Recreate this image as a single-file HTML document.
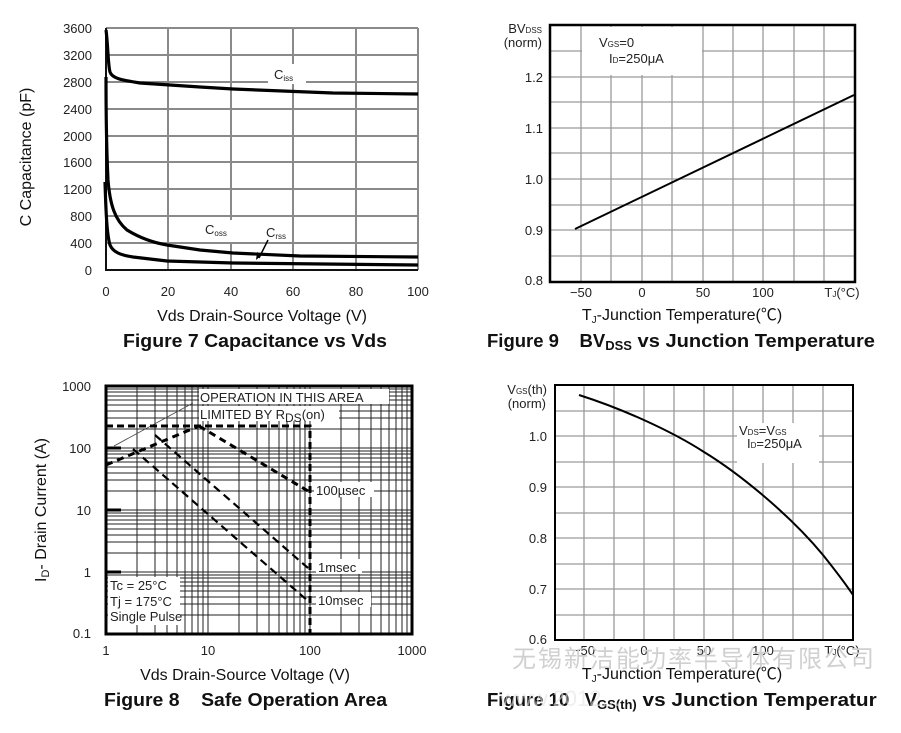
<!DOCTYPE html>
<html><head><meta charset="utf-8"><style>
body{margin:0;background:#fff;}
svg{display:block;font-family:"Liberation Sans","Noto Sans CJK SC",sans-serif;}
text{white-space:pre;}
.t{font-size:13px;fill:#222;}
.ax{font-size:16px;fill:#111;}
.ti{font-size:18.5px;font-weight:bold;fill:#111;}
.g7 line{stroke:#8a8a8a;stroke-width:2;}
.g8 line{stroke:#222;stroke-width:1;}
.g9 line{stroke:#9a9a9a;stroke-width:1.3;}
</style></head><body>
<svg width="901" height="733" viewBox="0 0 901 733" xml:space="preserve">
<!-- FIG 7 -->
<g class="g7">
<line x1="168" y1="28" x2="168" y2="270"/><line x1="231" y1="28" x2="231" y2="270"/><line x1="293" y1="28" x2="293" y2="270"/><line x1="356" y1="28" x2="356" y2="270"/><line x1="418" y1="28" x2="418" y2="270"/>
<line x1="106" y1="28" x2="418" y2="28"/><line x1="106" y1="55" x2="418" y2="55"/><line x1="106" y1="82" x2="418" y2="82"/><line x1="106" y1="109" x2="418" y2="109"/><line x1="106" y1="136" x2="418" y2="136"/><line x1="106" y1="162" x2="418" y2="162"/><line x1="106" y1="189" x2="418" y2="189"/><line x1="106" y1="216" x2="418" y2="216"/><line x1="106" y1="243" x2="418" y2="243"/>
</g>
<line x1="106" y1="28" x2="106" y2="271" stroke="#111" stroke-width="2"/>
<line x1="105" y1="270" x2="418" y2="270" stroke="#111" stroke-width="2"/>
<rect x="268" y="64" width="38" height="20" fill="#fff"/>
<rect x="200" y="220" width="90" height="22" fill="#fff"/>
<g fill="none" stroke="#000" stroke-width="3.2" stroke-linejoin="round">
<path d="M106,30 C108,45 108,65 110,72 C112,78 120,80 140,83 L200,87 L233,89 L333,93 L418,94"/>
<path d="M106,77 C106,130 107,160 108,180 C110,205 115,220 127,230 C140,238 155,243 167,245 L200,250 L233,253 L300,256 L418,257"/>
<path d="M105,182 C106,215 107,235 110,245 C113,252 120,255 133,257 L167,261 L233,263 L418,265"/>
</g>
<path d="M268,240 L259,258" stroke="#000" stroke-width="1.5"/><path d="M256,260 L257,252 L262,255 Z" fill="#000"/>
<text x="274" y="79" class="t" fill="#333">C<tspan font-size="8" dy="2">iss</tspan></text>
<text x="205" y="234" class="t">C<tspan font-size="8" dy="2">oss</tspan></text>
<text x="266" y="237" class="t">C<tspan font-size="8" dy="2">rss</tspan></text>
<g class="t" text-anchor="end"><text x="92" y="33">3600</text><text x="92" y="60">3200</text><text x="92" y="87">2800</text><text x="92" y="114">2400</text><text x="92" y="141">2000</text><text x="92" y="167">1600</text><text x="92" y="194">1200</text><text x="92" y="221">800</text><text x="92" y="248">400</text><text x="92" y="275">0</text></g>
<g class="t" text-anchor="middle"><text x="106" y="296">0</text><text x="168" y="296">20</text><text x="231" y="296">40</text><text x="293" y="296">60</text><text x="356" y="296">80</text><text x="418" y="296">100</text></g>
<text x="262" y="321" class="ax" text-anchor="middle">Vds Drain-Source Voltage (V)</text>
<text transform="translate(31,157) rotate(-90)" class="ax" text-anchor="middle">C Capacitance (pF)</text>
<text x="123" y="347" class="ti" textLength="264" lengthAdjust="spacingAndGlyphs">Figure 7 Capacitance vs Vds</text>

<!-- FIG 8 -->
<g class="g8">
<line x1="137" y1="386" x2="137" y2="634"/><line x1="155" y1="386" x2="155" y2="634"/><line x1="167" y1="386" x2="167" y2="634"/><line x1="177" y1="386" x2="177" y2="634"/><line x1="185" y1="386" x2="185" y2="634"/><line x1="192" y1="386" x2="192" y2="634"/><line x1="198" y1="386" x2="198" y2="634"/><line x1="203" y1="386" x2="203" y2="634"/><line x1="208" y1="386" x2="208" y2="634"/>
<line x1="239" y1="386" x2="239" y2="634"/><line x1="257" y1="386" x2="257" y2="634"/><line x1="269" y1="386" x2="269" y2="634"/><line x1="279" y1="386" x2="279" y2="634"/><line x1="287" y1="386" x2="287" y2="634"/><line x1="294" y1="386" x2="294" y2="634"/><line x1="300" y1="386" x2="300" y2="634"/><line x1="305" y1="386" x2="305" y2="634"/><line x1="310" y1="386" x2="310" y2="634"/>
<line x1="341" y1="386" x2="341" y2="634"/><line x1="359" y1="386" x2="359" y2="634"/><line x1="371" y1="386" x2="371" y2="634"/><line x1="381" y1="386" x2="381" y2="634"/><line x1="389" y1="386" x2="389" y2="634"/><line x1="396" y1="386" x2="396" y2="634"/><line x1="402" y1="386" x2="402" y2="634"/><line x1="407" y1="386" x2="407" y2="634"/>
<line x1="106" y1="615" x2="412" y2="615"/><line x1="106" y1="604" x2="412" y2="604"/><line x1="106" y1="597" x2="412" y2="597"/><line x1="106" y1="591" x2="412" y2="591"/><line x1="106" y1="586" x2="412" y2="586"/><line x1="106" y1="582" x2="412" y2="582"/><line x1="106" y1="578" x2="412" y2="578"/><line x1="106" y1="575" x2="412" y2="575"/><line x1="106" y1="572" x2="412" y2="572"/>
<line x1="106" y1="553" x2="412" y2="553"/><line x1="106" y1="542" x2="412" y2="542"/><line x1="106" y1="535" x2="412" y2="535"/><line x1="106" y1="529" x2="412" y2="529"/><line x1="106" y1="524" x2="412" y2="524"/><line x1="106" y1="520" x2="412" y2="520"/><line x1="106" y1="516" x2="412" y2="516"/><line x1="106" y1="513" x2="412" y2="513"/><line x1="106" y1="510" x2="412" y2="510"/>
<line x1="106" y1="491" x2="412" y2="491"/><line x1="106" y1="480" x2="412" y2="480"/><line x1="106" y1="473" x2="412" y2="473"/><line x1="106" y1="467" x2="412" y2="467"/><line x1="106" y1="462" x2="412" y2="462"/><line x1="106" y1="458" x2="412" y2="458"/><line x1="106" y1="454" x2="412" y2="454"/><line x1="106" y1="451" x2="412" y2="451"/><line x1="106" y1="448" x2="412" y2="448"/>
<line x1="106" y1="429" x2="412" y2="429"/><line x1="106" y1="418" x2="412" y2="418"/><line x1="106" y1="411" x2="412" y2="411"/><line x1="106" y1="405" x2="412" y2="405"/><line x1="106" y1="400" x2="412" y2="400"/><line x1="106" y1="396" x2="412" y2="396"/><line x1="106" y1="392" x2="412" y2="392"/><line x1="106" y1="389" x2="412" y2="389"/>
</g>
<rect x="106" y="386" width="306" height="248" fill="none" stroke="#000" stroke-width="3"/>
<g stroke="#000" stroke-width="3"><line x1="106" y1="448" x2="121" y2="448"/><line x1="106" y1="510" x2="121" y2="510"/><line x1="106" y1="572" x2="121" y2="572"/></g>
<rect x="199" y="389" width="190" height="15" fill="#fff"/>
<rect x="199" y="406" width="140" height="15" fill="#fff"/>
<rect x="108" y="577" width="72" height="48" fill="#fff"/>
<rect x="314" y="482" width="60" height="15" fill="#fff"/>
<rect x="316" y="559" width="46" height="15" fill="#fff"/>
<rect x="316" y="592" width="55" height="15" fill="#fff"/>
<line x1="114" y1="446" x2="193" y2="403" stroke="#444" stroke-width="0.8"/>
<g fill="none" stroke="#000" stroke-width="2.2" stroke-dasharray="8,5">
<path d="M106,426 L310,426 L310,634" stroke-width="3" stroke-dasharray="7,4"/>
<path d="M106,465 L199,426" stroke-width="3" stroke-dasharray="7,5"/>
<path d="M199,426 L308,491" stroke-width="3" stroke-dasharray="7,5"/>
<path d="M155,435 L308,568"/>
<path d="M133,449 L308,601"/>
</g>
<text x="200" y="402" class="t" font-size="13">OPERATION IN THIS AREA</text>
<text x="200" y="419" class="t" font-size="13">LIMITED BY R<tspan font-size="12" dy="3">DS</tspan><tspan dy="-3">(on)</tspan></text>
<text x="316" y="495" class="t">100µsec</text>
<text x="318" y="572" class="t">1msec</text>
<text x="318" y="605" class="t">10msec</text>
<text x="110" y="590" class="t">Tc = 25°C</text>
<text x="110" y="606" class="t">Tj = 175°C</text>
<text x="110" y="621" class="t">Single Pulse</text>
<g class="t" text-anchor="end"><text x="91" y="391">1000</text><text x="91" y="453">100</text><text x="91" y="515">10</text><text x="91" y="577">1</text><text x="91" y="638">0.1</text></g>
<g class="t" text-anchor="middle"><text x="106" y="655">1</text><text x="208" y="655">10</text><text x="310" y="655">100</text><text x="412" y="655">1000</text></g>
<text x="245" y="680" class="ax" text-anchor="middle">Vds Drain-Source Voltage (V)</text>
<text transform="translate(46,510) rotate(-90)" class="ax" text-anchor="middle">I<tspan font-size="11" dy="3">D</tspan><tspan dy="-3">- Drain Current (A)</tspan></text>
<text x="104" y="706" class="ti" textLength="283" lengthAdjust="spacingAndGlyphs">Figure 8    Safe Operation Area</text>

<!-- FIG 9 -->
<g class="g9">
<line x1="581" y1="25" x2="581" y2="282"/><line x1="611" y1="25" x2="611" y2="282"/><line x1="642" y1="25" x2="642" y2="282"/><line x1="672" y1="25" x2="672" y2="282"/><line x1="703" y1="25" x2="703" y2="282"/><line x1="733" y1="25" x2="733" y2="282"/><line x1="763" y1="25" x2="763" y2="282"/><line x1="794" y1="25" x2="794" y2="282"/><line x1="824" y1="25" x2="824" y2="282"/>
<line x1="550" y1="51" x2="855" y2="51"/><line x1="550" y1="77" x2="855" y2="77"/><line x1="550" y1="102" x2="855" y2="102"/><line x1="550" y1="128" x2="855" y2="128"/><line x1="550" y1="153" x2="855" y2="153"/><line x1="550" y1="179" x2="855" y2="179"/><line x1="550" y1="205" x2="855" y2="205"/><line x1="550" y1="230" x2="855" y2="230"/><line x1="550" y1="256" x2="855" y2="256"/>
</g>
<rect x="582" y="27" width="120" height="48" fill="#fff"/>
<rect x="550" y="25" width="305" height="257" fill="none" stroke="#000" stroke-width="2.5"/>
<line x1="575" y1="229" x2="854" y2="95" stroke="#000" stroke-width="2"/>
<text x="599" y="47" class="t">V<tspan font-size="8">GS</tspan>=0</text>
<text x="609" y="63" class="t">I<tspan font-size="8">D</tspan>=250μA</text>
<text x="542" y="33" class="t" text-anchor="end" font-size="12">BV<tspan font-size="8">DSS</tspan></text>
<text x="542" y="47" class="t" text-anchor="end" font-size="11">(norm)</text>
<g class="t" text-anchor="end" font-size="14"><text x="543" y="82">1.2</text><text x="543" y="133">1.1</text><text x="543" y="184">1.0</text><text x="543" y="235">0.9</text><text x="543" y="285">0.8</text></g>
<g class="t" text-anchor="middle" font-size="14"><text x="581" y="297">−50</text><text x="642" y="297">0</text><text x="703" y="297">50</text><text x="763" y="297">100</text><text x="842" y="297">T<tspan font-size="8">J</tspan>(°C)</text></g>
<text x="682" y="320" class="ax" text-anchor="middle">T<tspan font-size="10" dy="3">J</tspan><tspan dy="-3">-Junction Temperature(℃)</tspan></text>
<text x="487" y="347" class="ti">Figure 9    BV<tspan font-size="13" dy="3">DSS</tspan><tspan dy="-3" textLength="243" lengthAdjust="spacingAndGlyphs"> vs Junction Temperature</tspan></text>

<!-- FIG 10 -->
<g class="g9">
<line x1="584" y1="385" x2="584" y2="640"/><line x1="614" y1="385" x2="614" y2="640"/><line x1="644" y1="385" x2="644" y2="640"/><line x1="674" y1="385" x2="674" y2="640"/><line x1="704" y1="385" x2="704" y2="640"/><line x1="733" y1="385" x2="733" y2="640"/><line x1="763" y1="385" x2="763" y2="640"/><line x1="793" y1="385" x2="793" y2="640"/><line x1="823" y1="385" x2="823" y2="640"/>
<line x1="555" y1="411" x2="853" y2="411"/><line x1="555" y1="436" x2="853" y2="436"/><line x1="555" y1="462" x2="853" y2="462"/><line x1="555" y1="487" x2="853" y2="487"/><line x1="555" y1="513" x2="853" y2="513"/><line x1="555" y1="538" x2="853" y2="538"/><line x1="555" y1="564" x2="853" y2="564"/><line x1="555" y1="589" x2="853" y2="589"/><line x1="555" y1="615" x2="853" y2="615"/>
</g>
<rect x="737" y="423" width="82" height="40" fill="#fff"/>
<rect x="555" y="385" width="298" height="255" fill="none" stroke="#000" stroke-width="2"/>
<path d="M579,395 C620,408 670,430 704,452 C740,474 790,515 823,555 C835,570 845,583 853,595" fill="none" stroke="#000" stroke-width="2"/>
<text x="739" y="435" class="t">V<tspan font-size="8">DS</tspan>=V<tspan font-size="8">GS</tspan></text>
<text x="747" y="448" class="t">I<tspan font-size="8">D</tspan>=250μA</text>
<text x="547" y="394" class="t" text-anchor="end" font-size="11">V<tspan font-size="8">GS</tspan>(th)</text>
<text x="546" y="408" class="t" text-anchor="end" font-size="11">(norm)</text>
<g class="t" text-anchor="end" font-size="14"><text x="547" y="441">1.0</text><text x="547" y="492">0.9</text><text x="547" y="543">0.8</text><text x="547" y="594">0.7</text><text x="547" y="644">0.6</text></g>
<g class="t" text-anchor="middle" font-size="14"><text x="584" y="655">−50</text><text x="644" y="655">0</text><text x="704" y="655">50</text><text x="763" y="655">100</text><text x="842" y="655">T<tspan font-size="8">J</tspan>(°C)</text></g>
<text x="512" y="667" font-size="24" fill="#d0d0d0" textLength="362">无锡新洁能功率半导体有限公司</text>
<text x="682" y="679" class="ax" text-anchor="middle">T<tspan font-size="10" dy="3">J</tspan><tspan dy="-3">-Junction Temperature(℃)</tspan></text>
<text x="487" y="706" class="ti">Figure 10   V<tspan font-size="13" dy="3">GS(th)</tspan><tspan dy="-3" textLength="240" lengthAdjust="spacingAndGlyphs"> vs Junction Temperatur</tspan></text>
<text x="500" y="706" font-size="22" fill="#e4e4e4" opacity="0.6">www.2012...</text>
</svg>
</body></html>
